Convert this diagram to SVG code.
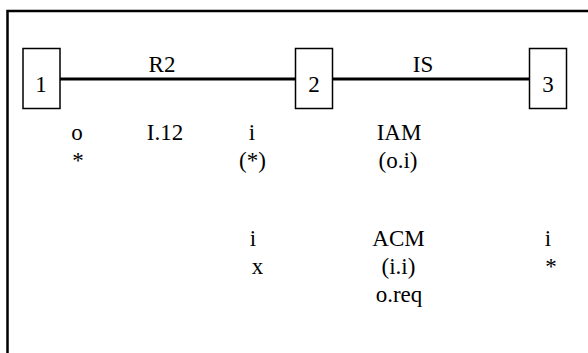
<svg xmlns="http://www.w3.org/2000/svg" width="588" height="353" viewBox="0 0 588 353">
<style>
text{font-family:"Liberation Serif","Times New Roman",serif;font-size:23px;fill:#000;text-anchor:middle}
.box{fill:#fff;stroke:#000;stroke-width:1.5}
.link{stroke:#000;stroke-width:3;fill:none}
</style>
<rect width="588" height="353" fill="#fff"/>
<path d="M7.5,353 V11 H588" fill="none" stroke="#000" stroke-width="2.5"/>
<g id="connectors">
<line class="link" x1="60" y1="79" x2="295.5" y2="79"/>
<line class="link" x1="332.5" y1="79" x2="529.5" y2="79"/>
<text x="162" y="72">R2</text>
<text x="423" y="72">IS</text>
</g>
<g id="node1">
<rect class="box" x="23" y="48.5" width="37" height="60"/>
<text x="41" y="92">1</text>
</g>
<g id="node2">
<rect class="box" x="295.5" y="48.5" width="37" height="60"/>
<text x="314" y="92">2</text>
</g>
<g id="node3">
<rect class="box" x="529.5" y="48.5" width="37" height="60"/>
<text x="548" y="92">3</text>
</g>
<g id="labels">
<text x="77" y="140">o</text>
<text x="78" y="168">*</text>
<text x="165" y="140">I.12</text>
<text x="252" y="140">i</text>
<text x="252.5" y="168">(*)</text>
<text x="399" y="140">IAM</text>
<text x="398" y="168">(o.i)</text>
<text x="253" y="246">i</text>
<text x="257.5" y="274">x</text>
<text x="398.5" y="246">ACM</text>
<text x="398.5" y="274">(i.i)</text>
<text x="399" y="302">o.req</text>
<text x="548" y="246">i</text>
<text x="551" y="274">*</text>
</g>
</svg>
